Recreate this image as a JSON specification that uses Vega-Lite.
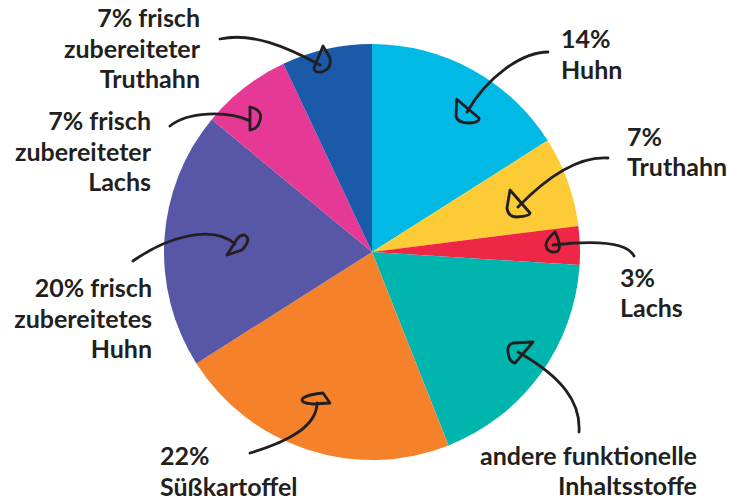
{
  "$schema": "https://vega.github.io/schema/vega-lite/v6.json",
  "width": 714,
  "height": 498,
  "autosize": {"type": "none"},
  "padding": {"left": 15, "top": 3, "right": 0, "bottom": 0},
  "background": "white",
  "config": {"view": {"stroke": null}},
  "data": {
    "values": [
      {"nr": 1, "name": "Huhn", "value": 16, "label": "14%\nHuhn"},
      {"nr": 2, "name": "Truthahn", "value": 7, "label": "7%\nTruthahn"},
      {"nr": 3, "name": "Lachs", "value": 3, "label": "3%\nLachs"},
      {"nr": 4, "name": "andere funktionelle Inhaltsstoffe", "value": 18, "label": "andere funktionelle\nInhaltsstoffe"},
      {"nr": 5, "name": "Süßkartoffel", "value": 22, "label": "22%\nSüßkartoffel"},
      {"nr": 6, "name": "frisch zubereitetes Huhn", "value": 20, "label": "20% frisch\nzubereitetes\nHuhn"},
      {"nr": 7, "name": "frisch zubereiteter Lachs", "value": 7, "label": "7% frisch\nzubereiteter\nLachs"},
      {"nr": 8, "name": "frisch zubereiteter Truthahn", "value": 7, "label": "7% frisch\nzubereiteter\nTruthahn"}
    ]
  },
  "layer": [
    {
      "mark": {"type": "arc", "radius": 208},
      "encoding": {
        "theta": {"field": "value", "type": "quantitative", "stack": true},
        "order": {"field": "nr", "type": "quantitative"},
        "color": {
          "field": "name",
          "type": "nominal",
          "legend": null,
          "scale": {
            "domain": ["Huhn", "Truthahn", "Lachs", "andere funktionelle Inhaltsstoffe", "Süßkartoffel", "frisch zubereitetes Huhn", "frisch zubereiteter Lachs", "frisch zubereiteter Truthahn"],
            "range": ["#00b9e4", "#fdcb35", "#ee2746", "#00b5ad", "#f5822a", "#5856a6", "#e63895", "#1b5aa8"]
          }
        }
      }
    },
    {
      "mark": {
        "type": "text",
        "radius": 208,
        "font": "Lato",
        "fontWeight": "bold",
        "fontSize": 25,
        "lineHeight": 30.5,
        "lineBreak": "\n",
        "color": "#231f20",
        "baseline": "alphabetic",
        "align": {"expr": "datum.nr == 4 || datum.nr >= 6 ? 'right' : 'left'"},
        "dx": {"expr": "[88.8, 59.3, 40.1, 156.7, -147.7, -12.4, -93.5, -126.6][datum.nr - 1]"},
        "dy": {"expr": "[-21.7, -35.6, 41.5, 90.7, 15.2, 58.1, 42.4, -22][datum.nr - 1]"}
      },
      "encoding": {
        "theta": {"field": "value", "type": "quantitative", "stack": true},
        "order": {"field": "nr", "type": "quantitative"},
        "detail": {"field": "name", "type": "nominal"},
        "text": {"field": "label", "type": "nominal"}
      }
    },
    {
      "mark": {
        "type": "point",
        "filled": false,
        "opacity": 1,
        "size": 4,
        "stroke": "#231f20",
        "strokeWidth": 2.8,
        "strokeCap": "round",
        "strokeJoin": "round",
        "shape": {"expr": "['M176,-200C150,-200 115,-175 95,-140M84.7,-152.7L84,-136Q85,-129 98,-129Q108,-130 107,-134Z', 'M236,-94C205,-96 175,-75 146,-45M138,-62L135,-44Q136,-35 145,-35Q158,-36 158,-39Z', 'M262,4C255,-10 225,-12 181,-7M183,-20Q171,-10 175,-3Q180,2 186,-1Q190,-6 183,-20Z', 'M207,180C209,150 190,125 146,100M161,90L141,91Q135,93 136,100Q137,110 143,111Z', 'M-122,201C-85,190 -55,175 -55,151M-42,151L-49,141Q-62,142 -69,146Q-73,151 -59,152Z', 'M-239,9C-205,-15 -160,-28 -137,-8M-145,3L-135,-13Q-130,-19 -126,-16Q-121,-12 -130,-2Z', 'M-202,-126C-185,-140 -145,-142 -122,-131M-122,-145Q-109,-142 -112,-132Q-114,-123 -122,-122Z', 'M-152,-213C-120,-220 -85,-205 -52,-187M-49,-206L-58,-184Q-58,-179 -50,-180Q-40,-183 -42,-194Z'][datum.nr - 1]"}
      },
      "encoding": {
        "detail": {"field": "name", "type": "nominal"}
      }
    }
  ]
}
